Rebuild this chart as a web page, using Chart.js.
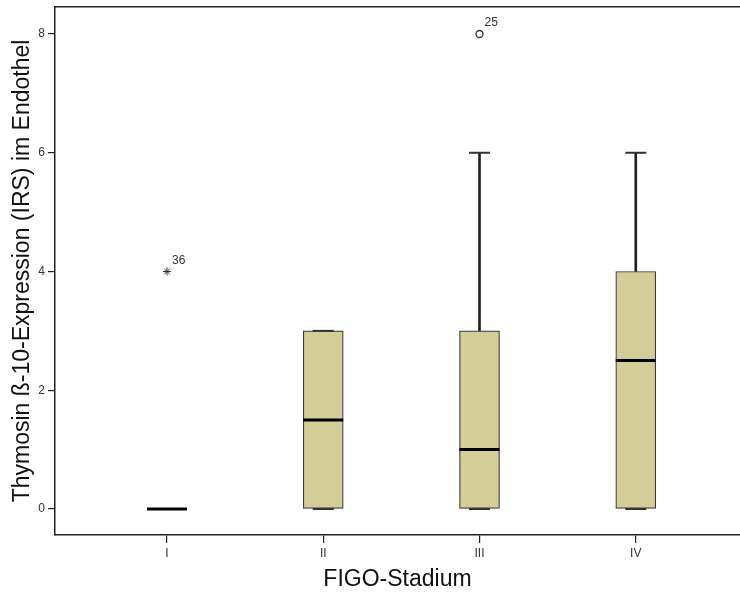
<!DOCTYPE html>
<html>
<head>
<meta charset="utf-8">
<script src="https://cdn.jsdelivr.net/npm/chart.js@4.4.1/dist/chart.umd.min.js"></script>
<style>
  body { margin: 0; background: #fff; }
  canvas { display: block; }
</style>
</head>
<body>
<canvas id="chart-box" width="740" height="596"></canvas>
<script>
// Boxplot Thymosin ß-10 (IRS) im Endothel nach FIGO-Stadium
const stadien = ["I", "II", "III", "IV"];
const minimum = [0, 0, 0, 0];
const q1 = [0, 0, 0, 0];
const median = [0, 1.5, 1, 2.5];
const q3 = [0, 3, 3, 4];
const maximum = [0, 3, 6, 6];

// Ausreisser (Fallnummern)
const ausreisserStadium = [1, 3];
const ausreisserWert = [4, 8];
const ausreisserFall = ["36", "25"];
const ausreisserSymbol = ["star", "circle"];

const yTicks = [0, 2, 4, 6, 8];

const boxColor = "#d3ce97";
const lineColor = "#222";
const fontFamily = '"Liberation Sans", Arial, sans-serif';

const xIdx = stadien.map((_, i) => i + 1);

// Boxen (Q1-Q3), nur wo es eine Box gibt
const boxData = xIdx
  .map((x, i) => ({ x, y: [q1[i], q3[i]] }))
  .filter((d) => d.y[1] > d.y[0]);

// Whisker oben / unten
const whiskerData = [];
xIdx.forEach((x, i) => {
  if (maximum[i] > q3[i]) whiskerData.push({ x, y: [q3[i], maximum[i]] });
  if (minimum[i] < q1[i]) whiskerData.push({ x, y: [minimum[i], q1[i]] });
});

const capData = [];
xIdx.forEach((x, i) => {
  capData.push({ x, y: maximum[i] });
  capData.push({ x, y: minimum[i] });
});

const medianData = xIdx.map((x, i) => ({ x, y: median[i] }));
const outlierData = ausreisserStadium.map((s, i) => ({ x: s, y: ausreisserWert[i] }));

// Fallnummern neben die Ausreisser schreiben
const fallLabels = {
  id: "fallLabels",
  afterDatasetsDraw(chart) {
    const idx = chart.data.datasets.findIndex((d) => d.label === "Ausreisser");
    const meta = chart.getDatasetMeta(idx);
    const ctx = chart.ctx;
    ctx.save();
    ctx.font = "12px " + fontFamily;
    ctx.fillStyle = "#333";
    ctx.textAlign = "left";
    ctx.textBaseline = "middle";
    meta.data.forEach((pt, i) => {
      ctx.fillText(ausreisserFall[i], pt.x + 5, pt.y - 11);
    });
    ctx.restore();
  },
};

// feste Achsengroessen, keine Zusatzraender
const fixSize = (w, h) => (scale) => {
  if (w !== null) scale.width = w;
  if (h !== null) scale.height = h;
  scale.paddingTop = 0;
  scale.paddingBottom = 0;
  scale.paddingLeft = 0;
  scale.paddingRight = 0;
};

const xMin = 0.2834;
const xMax = 4.667;

const ctx = document.getElementById("chart-box").getContext("2d");
new Chart(ctx, {
  type: "bar",
  data: {
    datasets: [
      {
        label: "Box",
        data: boxData,
        backgroundColor: boxColor,
        borderColor: "#3a3a3a",
        borderWidth: 1.2,
        borderSkipped: false,
        barThickness: 40,
        grouped: false,
        order: 3,
      },
      {
        label: "Whisker",
        data: whiskerData,
        backgroundColor: lineColor,
        borderWidth: 0,
        barThickness: 2,
        grouped: false,
        order: 4,
      },
      {
        type: "scatter",
        label: "Cap",
        data: capData,
        pointStyle: "line",
        pointRadius: 10.5,
        borderColor: "#333",
        borderWidth: 2,
        order: 2,
      },
      {
        type: "scatter",
        label: "Median",
        data: medianData,
        pointStyle: "line",
        pointRadius: 20,
        borderColor: "#000",
        borderWidth: 3,
        order: 1,
      },
      {
        type: "scatter",
        label: "Ausreisser",
        data: outlierData,
        pointStyle: ausreisserSymbol,
        pointRadius: [4, 3.5],
        borderColor: "#333",
        backgroundColor: "#fff",
        borderWidth: [1, 1.3],
        order: 0,
      },
    ],
  },
  options: {
    responsive: false,
    animation: false,
    devicePixelRatio: 1,
    layout: { autoPadding: false, padding: { top: 7, right: 0, left: 0, bottom: 0 } },
    plugins: {
      legend: { display: false },
      tooltip: { enabled: false },
    },
    scales: {
      x: {
        type: "linear",
        position: "bottom",
        min: xMin,
        max: xMax,
        offset: false,
        afterBuildTicks: (scale) => {
          scale.ticks = xIdx.map((v) => ({ value: v }));
        },
        afterFit: fixSize(null, 61),
        ticks: {
          callback: (value) => stadien[value - 1],
          font: { size: 12, family: fontFamily },
          color: "#333",
          padding: 3,
          maxRotation: 0,
        },
        grid: {
          offset: false,
          drawOnChartArea: false,
          drawTicks: true,
          tickLength: 8,
          color: lineColor,
          lineWidth: 1.2,
        },
        border: { display: true, color: lineColor, width: 1.5 },
        title: {
          display: true,
          text: "FIGO-Stadium",
          font: { size: 23, family: fontFamily },
          color: "#111",
          padding: { top: 0, bottom: 3 },
        },
      },
      xTop: {
        type: "linear",
        position: "top",
        min: xMin,
        max: xMax,
        afterFit: fixSize(null, 0),
        ticks: { display: false },
        grid: { display: false, drawTicks: false },
        border: { display: true, color: lineColor, width: 1.5 },
      },
      y: {
        type: "linear",
        min: -0.438,
        max: 8.455,
        afterBuildTicks: (scale) => {
          scale.ticks = yTicks.map((v) => ({ value: v }));
        },
        afterFit: fixSize(55, null),
        ticks: {
          font: { size: 12, family: fontFamily },
          color: "#333",
          padding: 3,
        },
        grid: {
          drawOnChartArea: false,
          drawTicks: true,
          tickLength: 7,
          color: lineColor,
          lineWidth: 1.2,
        },
        border: { display: true, color: lineColor, width: 1.5 },
        title: {
          display: true,
          text: "Thymosin ß-10-Expression (IRS) im Endothel",
          font: { size: 23, family: fontFamily },
          color: "#111",
          padding: { top: 9, bottom: 0 },
        },
      },
    },
  },
  plugins: [fallLabels],
});
</script>
</body>
</html>
